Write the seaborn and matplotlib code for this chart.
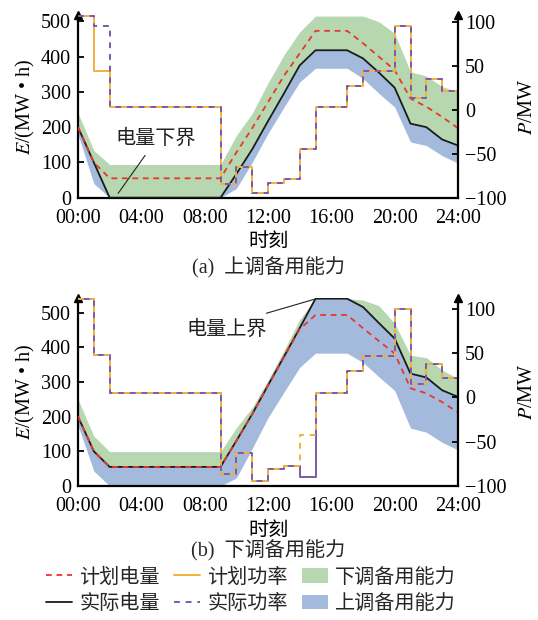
import matplotlib
matplotlib.use('Agg')
import matplotlib.pyplot as plt
import seaborn as sns
from matplotlib.lines import Line2D
from matplotlib.patches import Patch

# ---------------- data ----------------
hours = list(range(25))
x_ticks = [0, 4, 8, 12, 16, 20, 24]
x_tick_labels = ['00:00', '04:00', '08:00', '12:00', '16:00', '20:00', '24:00']

# panel (a)  上调备用能力
plan_E_a = [200, 100, 55, 55, 55, 55, 55, 55, 55, 55, 128, 197, 271, 345, 409, 473, 473, 473, 438, 400, 362, 281, 258, 229, 197]
act_E_a = [200, 100, 0, 0, 0, 0, 0, 0, 0, 0, 67, 137, 217, 295, 375, 418, 418, 418, 395, 355, 312, 210, 200, 165, 148]
down_top_a = [240, 134, 94, 94, 94, 94, 94, 94, 94, 94, 176, 239, 325, 404, 470, 515, 515, 515, 515, 499, 466, 357, 345, 315, 300]
up_low_a = [180, 40, 0, 0, 0, 0, 0, 0, 0, 0, 26, 100, 182, 256, 328, 367, 367, 367, 338, 296, 257, 158, 148, 119, 98]
plan_P_a = [107, 44, 3, 3, 3, 3, 3, 3, 3, -84, -65, -95, -83, -79, -45, 3, 3, 27, 44, 44, 95, 14, 35, 21]
act_P_a = [107, 96, 3, 3, 3, 3, 3, 3, 3, -84, -65, -95, -83, -79, -45, 3, 3, 27, 44, 44, 95, 14, 35, 21]

# panel (b)  下调备用能力
plan_E_b = [200, 100, 55, 55, 55, 55, 55, 55, 55, 55, 130, 207, 290, 370, 452, 493, 493, 493, 455, 418, 382, 282, 267, 242, 212]
act_E_b = [200, 100, 55, 55, 55, 55, 55, 55, 55, 55, 130, 207, 290, 372, 455, 540, 540, 540, 516, 470, 425, 324, 313, 276, 257]
down_top_b = [250, 144, 99, 99, 99, 99, 99, 99, 99, 99, 168, 226, 305, 390, 480, 540, 540, 540, 536, 520, 469, 377, 370, 334, 310]
up_low_b = [175, 43, 0, 0, 0, 0, 0, 0, 0, 0, 23, 108, 197, 270, 342, 383, 383, 383, 356, 315, 275, 167, 155, 126, 104]
plan_P_b = [111, 48, 5, 5, 5, 5, 5, 5, 5, -86, -63, -94, -81, -78, -43, 5, 5, 30, 47, 47, 100, 15, 38, 22]
act_P_b = [111, 48, 5, 5, 5, 5, 5, 5, 5, -86, -63, -94, -81, -78, -90, 5, 5, 30, 47, 47, 100, 15, 38, 22]

legend_labels = ['计划电量', '实际电量', '计划功率', '实际功率', '下调备用能力', '上调备用能力']

# ---------------- style ----------------
sns.set_theme(style='white')
plt.rcParams['font.family'] = ['Liberation Serif', 'Noto Sans CJK SC']
plt.rcParams['mathtext.fontset'] = 'stix'
plt.rcParams['axes.unicode_minus'] = True

RED = '#e8372c'
ORANGE = '#f2b23c'
PURPLE = '#7a5aa6'
GREEN = '#b6d7b0'
BLUE = '#a4badc'
FS = 14.5
SPINE_W = 1.6

fig = plt.figure(figsize=(5.38, 6.2), dpi=100)


def steps(vals):
    return list(vals) + [vals[-1]]


def panel(rect, plan_E, act_E, down_top, up_low, plan_P, act_P, e_top, p_top,
          p_plan_ls, p_act_ls, p_order_plan_first):
    ax = fig.add_axes(rect)
    ax.fill_between(hours, act_E, down_top, color=GREEN, lw=0, zorder=1)
    ax.fill_between(hours, up_low, act_E, color=BLUE, lw=0, zorder=1)
    sns.lineplot(x=hours, y=act_E, ax=ax, color='#1a1a1a', lw=1.3, zorder=3)
    sns.lineplot(x=hours, y=plan_E, ax=ax, color=RED, lw=1.3,
                 linestyle=(0, (3.2, 2.6)), zorder=4)
    ax.set_xlim(0, 24)
    ax.set_ylim(0, e_top)
    ax.set_xticks(x_ticks)
    ax.set_xticklabels(x_tick_labels)
    ax.set_yticks([0, 100, 200, 300, 400, 500])

    ax2 = ax.twinx()
    if p_order_plan_first:
        sns.lineplot(x=hours, y=steps(plan_P), ax=ax2, color=ORANGE, lw=1.4,
                     linestyle=p_plan_ls, drawstyle='steps-post', zorder=2)
        sns.lineplot(x=hours, y=steps(act_P), ax=ax2, color=PURPLE, lw=1.4,
                     linestyle=p_act_ls, drawstyle='steps-post', zorder=3)
    else:
        sns.lineplot(x=hours, y=steps(act_P), ax=ax2, color=PURPLE, lw=1.4,
                     linestyle=p_act_ls, drawstyle='steps-post', zorder=2)
        sns.lineplot(x=hours, y=steps(plan_P), ax=ax2, color=ORANGE, lw=1.4,
                     linestyle=p_plan_ls, drawstyle='steps-post', zorder=3)
    ax2.set_ylim(-100, p_top)
    ax2.set_yticks([-100, -50, 0, 50, 100])

    for a in (ax, ax2):
        a.grid(False)
        a.spines['top'].set_visible(False)
        for s in a.spines.values():
            s.set_linewidth(SPINE_W)
            s.set_color('black')
    ax.spines['right'].set_visible(False)
    ax2.spines['left'].set_visible(False)
    ax2.spines['bottom'].set_visible(False)

    ax.tick_params(axis='x', direction='in', length=4, width=1.3, labelsize=FS,
                   pad=8, colors='black')
    ax.tick_params(axis='y', direction='in', length=4, width=1.3, labelsize=FS,
                   pad=5, left=True, colors='black')
    ax2.tick_params(axis='y', direction='in', length=4, width=1.3, labelsize=FS,
                    pad=5, right=True, colors='black')

    ax.set_ylabel(r'$E$/(MW • h)', fontsize=FS, labelpad=3, color='black')
    ax2.set_ylabel(r'$P$/MW', fontsize=FS, labelpad=8, color='black')
    ax.set_xlabel('时刻', fontsize=FS, labelpad=4, color='black')

    # arrow heads on the vertical spines
    ax.plot([0], [1], marker='^', color='black', ms=6, transform=ax.transAxes,
            clip_on=False, zorder=10)
    ax2.plot([1], [1], marker='^', color='black', ms=6, transform=ax2.transAxes,
             clip_on=False, zorder=10)
    return ax, ax2


# panel (a)
ax_a, ax_a2 = panel([78 / 538, 1 - 197.7 / 620, 380 / 538, 182.7 / 620],
                    plan_E_a, act_E_a, down_top_a, up_low_a, plan_P_a, act_P_a,
                    518, 108, '-', (0, (3, 3)), True)
ax_a.text(4.93, 166, '电量下界', fontsize=FS, ha='center', va='center', color='#222222', zorder=6)
ax_a.plot([4.24, 2.53], [120, 12], color='#222222', lw=0.8, zorder=6)
fig.text(268 / 538, 1 - 268 / 620, '(a)  上调备用能力', fontsize=FS, ha='center', va='center')

# panel (b)
ax_b, ax_b2 = panel([78 / 538, 1 - 486 / 620, 380 / 538, 188 / 620],
                    plan_E_b, act_E_b, down_top_b, up_low_b, plan_P_b, act_P_b,
                    542, 112, (0, (3, 3)), '-', False)
ax_b.text(9.4, 450, '电量上界', fontsize=FS, ha='center', va='center', color='#222222', zorder=6)
ax_b.plot([11.9, 14.9], [498, 538], color='#222222', lw=0.8, zorder=6)
fig.text(268 / 538, 1 - 551 / 620, '(b)  下调备用能力', fontsize=FS, ha='center', va='center')

# legend
handles = [
    Line2D([], [], color=RED, lw=1.3, linestyle=(0, (3.2, 2.6))),
    Line2D([], [], color='#1a1a1a', lw=1.3),
    Line2D([], [], color=ORANGE, lw=1.4),
    Line2D([], [], color=PURPLE, lw=1.4, linestyle=(0, (3, 3))),
    Patch(facecolor=GREEN, edgecolor='none'),
    Patch(facecolor=BLUE, edgecolor='none'),
]
fig.legend(handles, legend_labels, ncol=3, loc='center', bbox_to_anchor=(251 / 538, 1 - 591 / 620),
           frameon=False, fontsize=FS, handlelength=1.3, handletextpad=0.35,
           columnspacing=0.7, labelspacing=0.35)

fig.savefig('out.png', dpi=100)
